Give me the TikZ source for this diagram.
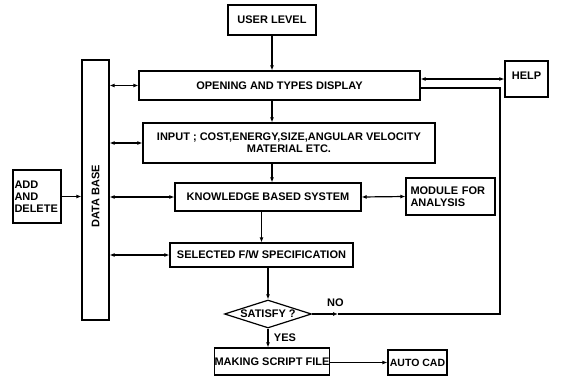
\documentclass[tikz,border=0pt]{standalone}
\usepackage{fontspec}
\setmainfont{Liberation Sans}
\usetikzlibrary{shapes.geometric,arrows.meta}
\begin{document}
\begin{tikzpicture}[x=1pt,y=-1pt,
  every node/.style={font=\fontsize{11}{12}\selectfont\bfseries},
  box/.style={draw,line width=1.2pt,inner sep=0pt,align=center},
  conn/.style={line width=1.2pt},
  arr/.style={conn,-{Latex[length=5pt,width=4pt]}},
  darr/.style={conn,{Latex[length=5pt,width=4pt]}-{Latex[length=5pt,width=4pt]}}]
\useasboundingbox (0,0) rectangle (563,380);
\node[box,minimum width=88pt,minimum height=30pt] (user) at (272,20) {USER LEVEL};
\node[box,minimum width=281pt,minimum height=29pt] (open) at (279.5,85.5) {OPENING AND TYPES DISPLAY};
\node[box,minimum width=43pt,minimum height=36pt] (help) at (526.5,79) {};
\node (helptext) at (526.5,76) {HELP};
\node[box,minimum width=27pt,minimum height=260pt] (db) at (95.5,190) {};
\node[rotate=90] (dbtext) at (95.5,196) {DATA BASE};
\node[box,minimum width=292pt,minimum height=40pt] (input) at (289,143) {INPUT ; COST,ENERGY,SIZE,ANGULAR VELOCITY\\MATERIAL ETC.};
\node[box,minimum width=48pt,minimum height=53pt,align=left,text width=45pt] (add) at (37,196.5) {ADD\\AND\\DELETE};
\node[box,minimum width=186pt,minimum height=28pt] (know) at (268,197) {KNOWLEDGE BASED SYSTEM};
\node[box,minimum width=89pt,minimum height=37pt,align=left,text width=80pt] (module) at (450.5,196.5) {MODULE FOR\\ANALYSIS};
\node[box,minimum width=183pt,minimum height=24pt] (sel) at (261.5,255) {SELECTED F/W SPECIFICATION};
\node[draw,line width=1.2pt,shape=diamond,aspect=3.1,inner sep=0pt,minimum width=87pt,minimum height=28pt] (sat) at (268,314) {SATISFY ?};
\node[box,minimum width=114pt,minimum height=27pt] (make) at (272,361.5) {MAKING SCRIPT FILE};
\node[box,minimum width=59pt,minimum height=25pt,font=\fontsize{10.5}{12}\selectfont\bfseries] (cad) at (417.5,362.5) {AUTO CAD};
\coordinate (nomid) at (338,314);
\coordinate (nocorner) at (500,314);
\coordinate (noend) at (420,88);
% connectors
\draw[arr] (user.south) -- (user.south |- open.north);
\draw[arr] (open.south -| user.south) -- (input.north -| user.south);
\draw[arr] (input.south -| user.south) -- (know.north -| user.south);
\draw[arr] (know.south -| sel.north) -- (sel.north);
\draw[arr] (sel.south -| sat.north) -- (sat.north);
\draw[arr] (sat.south) -- (sat.south |- make.north) node[pos=0.5,right=2pt] (yes) {YES};
\draw[arr] (make.east |- cad.west) -- (cad.west);
\draw[darr] (db.east |- open.west) -- (open.west);
\draw[darr] (db.east |- input.west) -- (input.west);
\draw[darr] (db.east |- know.west) -- (know.west);
\draw[darr] (db.east |- sel.west) -- (sel.west);
\draw[arr] (add.east) -- (add.east -| db.west);
\draw[darr] (know.east) -- (module.west);
\draw[darr] (help.west -| open.east) -- (help.west);
\draw[arr] (sat.east) -- (nomid) node[above=3pt,pos=0.9] (no) {NO};
\draw[conn] (nomid) -- (nocorner) -- (noend -| nocorner) -- (noend);
\end{tikzpicture}
\end{document}
